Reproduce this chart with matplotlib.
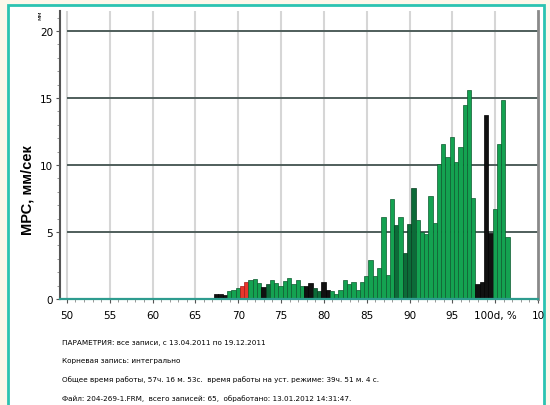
import matplotlib
matplotlib.use('Agg')
import matplotlib.pyplot as plt
from matplotlib.patches import Rectangle

plt.rcParams['font.family'] = ['DejaVu Sans']

# bins (left edge, %), MPC values and bar colour class
d_left = [67.2, 67.7, 68.2, 68.7, 69.2, 69.7, 70.2, 70.7, 71.2, 71.7,
          72.2, 72.7, 73.2, 73.7, 74.2, 74.7, 75.2, 75.7, 76.2, 76.7,
          77.2, 77.7, 78.2, 78.7, 79.2, 79.7, 80.2, 80.7, 81.2, 81.7,
          82.2, 82.7, 83.2, 83.7, 84.2, 84.7, 85.2, 85.7, 86.2, 86.7,
          87.2, 87.7, 88.2, 88.7, 89.2, 89.7, 90.2, 90.7, 91.2, 91.7,
          92.2, 92.7, 93.2, 93.7, 94.2, 94.7, 95.2, 95.7, 96.2, 96.7,
          97.2, 97.7, 98.2, 98.7, 99.2, 99.7, 100.2, 100.7, 101.2]
mps = [0.35, 0.4, 0.3, 0.6, 0.65, 0.8, 1.0, 1.25, 1.45, 1.5,
       1.2, 0.9, 1.1, 1.4, 1.2, 1.0, 1.35, 1.6, 1.1, 1.45,
       1.0, 1.0, 1.2, 0.8, 0.6, 1.3, 0.7, 0.6, 0.4, 0.7,
       1.45, 1.1, 1.3, 0.7, 1.3, 1.75, 2.9, 1.7, 2.3, 6.1,
       1.8, 7.5, 5.5, 6.1, 3.4, 5.6, 8.3, 5.9, 5.0, 4.85,
       7.7, 5.7, 10.05, 11.6, 10.6, 12.1, 10.2, 11.35, 14.5, 15.6,
       7.55, 1.1, 1.3, 13.7, 4.9, 6.7, 11.6, 14.85, 4.6]
kind = list('kkkgggrrgg'
            'gkdggggggg'
            'gkkddkkggg'
            'gggggggggg'
            'ggdgdddggg'
            'gggggggggg'
            'gkkkkgggg')

palette = {'g': '#14a251', 'd': '#0c6b38', 'k': '#111111', 'r': '#e8352c'}
edges = {'g': '#0d5a2f', 'd': '#073d20', 'k': '#000000', 'r': '#a01c18'}

notes = [
    'ПАРАМЕТРИЯ: все записи, с 13.04.2011 по 19.12.2011',
    'Корневая запись: интегрально',
    'Общее время работы, 57ч. 16 м. 53с.  время работы на уст. режиме: 39ч. 51 м. 4 с.',
    'Файл: 204-269-1.FRM,  всего записей: 65,  обработано: 13.01.2012 14:31:47.',
]

W, H = 550, 406
fig = plt.figure(figsize=(W / 100, H / 100), dpi=100)
fig.patch.set_facecolor('#fdf7ea')
fig.patches.append(Rectangle((8 / W, -0.05), 536 / W, 1.05 - 6 / H,
                             transform=fig.transFigure, facecolor='white',
                             edgecolor='#2cc3b1', linewidth=2, zorder=-10))

ax = fig.add_axes([60 / W, 1 - 300 / H, 478 / W, 288 / H])
ax.set_facecolor('white')
ax.set_xlim(49.2, 105)
ax.set_ylim(0, 21.5)

ax.vlines(range(50, 101, 5), 0, 21.5, color='#d6d6d6', lw=1.5, zorder=0)
ax.hlines([5, 10, 15, 20], 50, 105, color='#4f5e5b', lw=1.4, zorder=1)

ax.bar(d_left, mps, width=0.5, align='edge',
       color=[palette[c] for c in kind],
       edgecolor=[edges[c] for c in kind], linewidth=0.5, zorder=2)

ax.spines['top'].set_visible(False)
ax.spines['left'].set_color('#555555')
ax.spines['left'].set_linewidth(1.5)
ax.spines['right'].set_color('#8a8a8a')
ax.spines['right'].set_linewidth(2)
ax.spines['bottom'].set_color('#2e9c8f')
ax.spines['bottom'].set_linewidth(1.6)
ax.spines['bottom'].set_zorder(3)

ax.set_yticks([0, 5, 10, 15, 20])
ax.set_yticks(range(0, 22), minor=True)
ax.set_xticks(range(50, 106, 5))
ax.set_xticks(range(50, 106), minor=True)
ax.set_xticklabels(['50', '55', '60', '65', '70', '75', '80', '85', '90', '95',
                    '100d, %', '10'])
ax.tick_params(axis='both', which='major', labelsize=7.5, length=3,
               color='#555555', pad=2)
ax.tick_params(axis='both', which='minor', length=2, color='#888888')
ax.tick_params(axis='x', which='major', pad=5)

fig.text(28 / W, 1 - 190 / H, 'МРС, мм/сек', rotation=90, ha='center',
         va='center', fontsize=10.5, fontweight='bold',
         family=['Liberation Sans', 'DejaVu Sans'])
fig.text(40 / W, 1 - 15 / H, 'мм', rotation=90, ha='center', va='center',
         fontsize=4.5)

for i, line in enumerate(notes):
    fig.text(62 / W, 1 - (343 + 18.5 * i) / H, line, ha='left',
             va='center', fontsize=5.2)

fig.savefig('out.png', dpi=100, facecolor=fig.get_facecolor())
